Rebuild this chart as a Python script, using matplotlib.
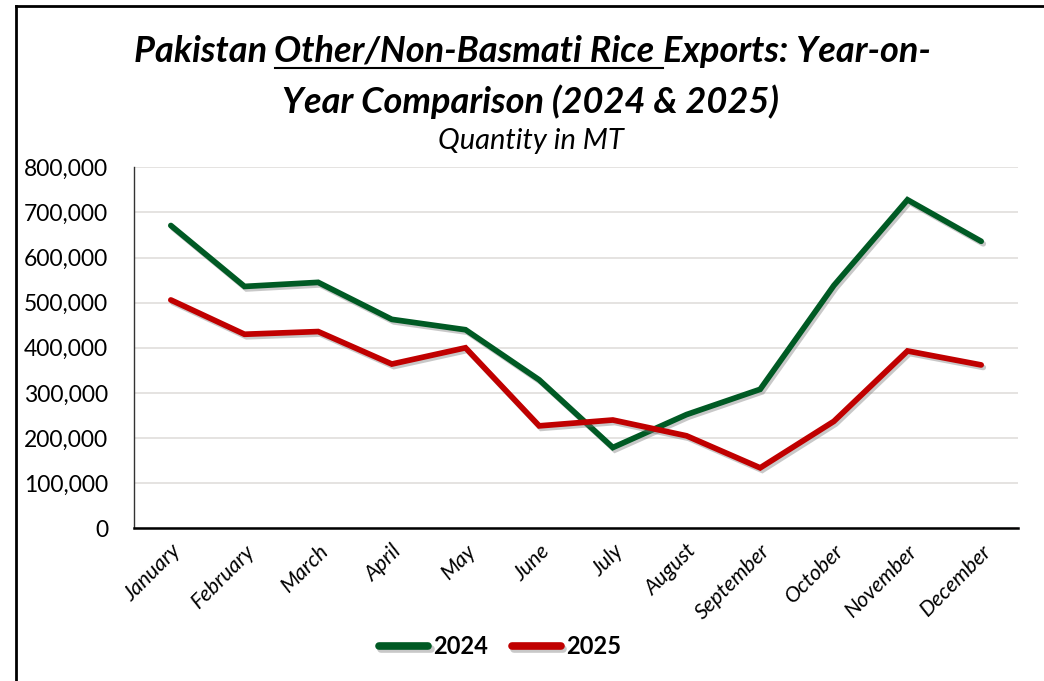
import matplotlib
matplotlib.use("Agg")
import matplotlib.pyplot as plt
import matplotlib.patheffects as pe
from matplotlib.lines import Line2D
from matplotlib.ticker import FuncFormatter

months = ["January", "February", "March", "April", "May", "June", "July",
          "August", "September", "October", "November", "December"]
exports_2024 = [671000, 536000, 545000, 463000, 440000, 329000, 179000,
                252000, 308000, 538000, 728000, 636000]
exports_2025 = [506000, 430000, 436000, 364000, 400000, 227000, 240000,
                205000, 134000, 237000, 393000, 362000]
series_labels = ["2024", "2025"]
colors = ["#005a24", "#c00000"]
yticks = [0, 100000, 200000, 300000, 400000, 500000, 600000, 700000, 800000]

FONT = "Lato"
plt.rcParams["font.family"] = [FONT, "DejaVu Sans"]

fig = plt.figure(figsize=(10.44, 6.81), dpi=100)
ax = fig.add_axes([134/1044, 1-528.3/681, (1018-134)/1044, (528.3-167.3)/681])

x = list(range(len(months)))
shadow = [pe.SimpleLineShadow(offset=(1.5, -1.8), shadow_color="#777777", alpha=0.4), pe.Normal()]
for vals, lab, c in zip([exports_2024, exports_2025], series_labels, colors):
    ax.plot(x, vals, color=c, lw=4.1, label=lab, solid_capstyle="round",
            solid_joinstyle="miter", path_effects=shadow, zorder=3)

ax.set_xlim(-0.5, len(months) - 0.5)
ax.set_ylim(0, 800000)
ax.set_yticks(yticks)
ax.yaxis.set_major_formatter(FuncFormatter(lambda v, p: f"{int(v):,}"))
ax.set_xticks(x)
ax.set_xticklabels(months, rotation=45, ha="right", rotation_mode="anchor",
                   fontsize=15.5, style="italic")
ax.tick_params(axis="y", labelsize=16.5, length=0, pad=18.5)
ax.tick_params(axis="x", length=0, pad=9)
ax.grid(axis="y", color="#e3e0de", lw=1.3)
ax.set_axisbelow(True)
for s in ["top", "right"]:
    ax.spines[s].set_visible(False)
ax.spines["left"].set_color("#333333")
ax.spines["left"].set_linewidth(1.0)
ax.spines["bottom"].set_color("black")
ax.spines["bottom"].set_linewidth(1.8)

leg = fig.legend(loc="center", bbox_to_anchor=(500/1044, 1-647/681), ncol=2,
                 frameon=False, handlelength=2.1, handletextpad=0.2, columnspacing=1.0,
                 prop={"family": FONT, "weight": "bold", "size": 17})
for h in leg.get_lines():
    h.set_linewidth(5.5)
    h.set_solid_capstyle("round")

# Title line 1 with underlined middle part
fig.canvas.draw()
renderer = fig.canvas.get_renderer()
tkw = dict(fontsize=26, fontweight="bold", style="italic", family=FONT)
parts = ["Pakistan ", "Other/Non-Basmati Rice ", "Exports: Year-on-"]
texts = []
y1 = 1 - 62/681
tmp = [fig.text(0, 0, p, **tkw) for p in parts]
widths = [t.get_window_extent(renderer).width for t in tmp]
for t in tmp:
    t.remove()
total = sum(widths)
start = 532 - total/2
xpos = start
for p, w in zip(parts, widths):
    t = fig.text(xpos/1044, y1, p, ha="left", va="baseline", **tkw)
    texts.append((t, xpos, w))
    xpos += w
_, ux, uw = texts[1]
fig.add_artist(Line2D([ux/1044, (ux+uw)/1044], [1 - 68/681]*2, color="black", lw=1.5,
                      transform=fig.transFigure))

fig.text(531/1044, 1 - 113/681, "Year Comparison (2024 & 2025)", ha="center", va="baseline", **tkw)
fig.text(531/1044, 1 - 149/681, "Quantity in MT", ha="center", va="baseline",
         fontsize=21, style="italic", family=FONT)

# outer frame
fig.add_artist(Line2D([16/1044, 16/1044], [0, 1 - 6/681], color="black", lw=2, transform=fig.transFigure))
fig.add_artist(Line2D([16/1044, 1], [1 - 6/681, 1 - 6/681], color="black", lw=2, transform=fig.transFigure))

fig.savefig("out.png", dpi=100, facecolor="white")
